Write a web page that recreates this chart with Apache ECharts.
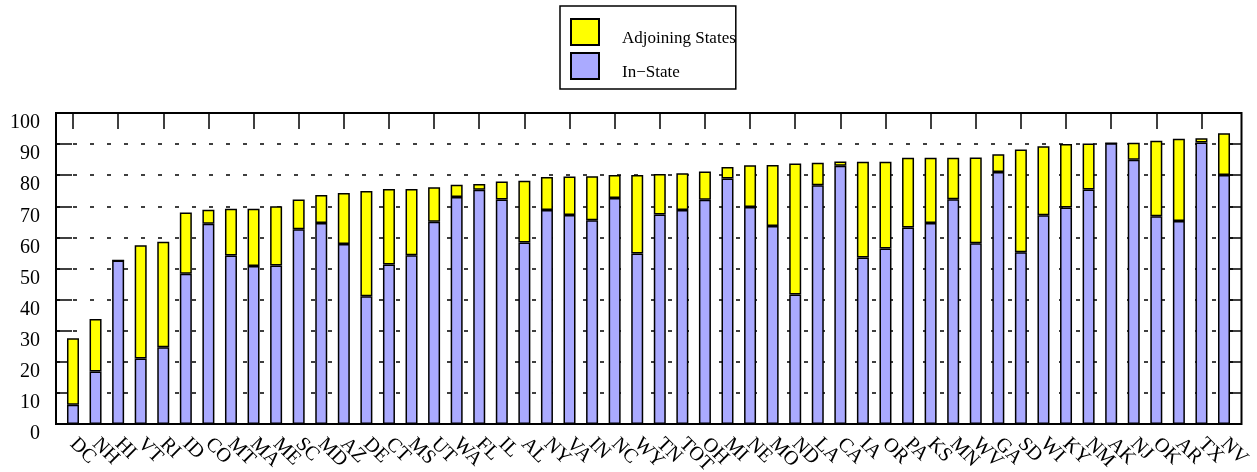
<!DOCTYPE html>
<html>
<head>
<meta charset="utf-8">
<script src="https://cdn.jsdelivr.net/npm/echarts@6/dist/echarts.min.js"></script>
<style>html,body{margin:0;padding:0;background:#fff}#c{width:1257px;height:472px}</style>
</head>
<body>
<div id="c"></div>
<script>
var states = ['DC','NH','HI','VT','RI','ID','CO','MT','MA','ME','SC','MD','AZ','DE','CT','MS','UT','WA','FL','IL','AL','NY','VA','IN','NC','WY','TN','TOT','OH','MI','NE','MO','ND','LA','CA','IA','OR','PA','KS','MN','WV','GA','SD','WI','KY','NM','AK','NJ','OK','AR','TX','NV'];
var inState = [6.2,16.9,52.6,21.1,24.7,48.3,64.4,54.2,50.8,51.0,62.6,64.6,57.9,41.1,51.3,54.3,65.0,73.0,75.3,72.2,58.4,68.8,67.2,65.5,72.7,54.8,67.4,68.8,72.1,78.9,69.8,63.7,41.6,76.8,83.0,53.5,56.4,63.2,64.6,72.3,58.1,81.0,55.2,67.1,69.6,75.4,90.3,85.0,66.8,65.3,90.5,80.1];
var adjoining = [21.4,16.9,0,36.4,33.9,19.7,4.5,15.0,18.4,19.0,9.6,9.0,16.4,33.8,24.3,21.3,11.1,3.9,1.9,5.8,19.8,10.6,12.4,14.2,7.4,25.3,13.0,11.8,9.1,3.7,13.4,19.6,42.2,7.2,1.4,30.8,27.9,22.4,21.0,13.3,27.6,5.7,33.1,22.2,20.4,14.8,0,5.4,24.3,26.4,1.4,13.4];
var yTicks = [0,10,20,30,40,50,60,70,80,90,100];

var serif = 'Liberation Serif, DejaVu Serif, serif';
var chart = echarts.init(document.getElementById('c'));
chart.setOption({
  animation: false,
  backgroundColor: '#fff',
  legend: {
    orient: 'vertical',
    left: 560, top: 6,
    padding: [12, 0, 8, 10],
    borderColor: '#000', borderWidth: 1.5,
    itemWidth: 28, itemHeight: 26, itemGap: 5,
    icon: 'rect',
    data: ['Adjoining States', 'In\u2212State'],
    formatter: '{t|{name}}',
    textStyle: { fontFamily: serif, fontSize: 17, color: '#000',
      rich: { t: { fontFamily: serif, fontSize: 17, color: '#000', padding: [13, 0, 0, 18] } } },
    selectedMode: false
  },
  grid: [
    { left: 61.7, right: 21.7, top: 113, bottom: 48, outerBoundsMode: 'none', containLabel: false },
    { left: 56, right: 15.5, top: 113, bottom: 48, outerBoundsMode: 'none', containLabel: false,
      show: true, borderColor: '#000', borderWidth: 2, backgroundColor: 'transparent' }
  ],
  xAxis: [
    { type: 'category', gridIndex: 0, data: states, position: 'bottom',
      axisLine: { show: false }, axisTick: { show: false },
      axisLabel: { rotate: -45, interval: 0, fontFamily: serif, fontSize: 20, color: '#000', margin: 17 } },
    { type: 'category', gridIndex: 0, data: states, position: 'top',
      axisLine: { show: false }, axisLabel: { show: false },
      axisTick: { show: true, inside: true, length: 16, alignWithLabel: true, lineStyle: { color: '#000', width: 1.5 } } },
    { type: 'value', gridIndex: 1, show: false, min: 0, max: 1 }
  ],
  yAxis: [
    { type: 'value', gridIndex: 0, min: 0, max: 100, show: false },
    { type: 'value', gridIndex: 1, min: 0, max: 100, interval: 10, position: 'left',
      axisLine: { show: false },
      axisTick: { show: true, inside: true, length: 16, lineStyle: { color: '#000', width: 1.5 } },
      splitLine: { show: true, lineStyle: { color: '#000', width: 1.5, type: [4, 13] } },
      axisLabel: { fontFamily: serif, fontSize: 20, color: '#000', margin: 16, verticalAlign: 'top',
        formatter: function (v) { return yTicks.indexOf(v) >= 0 ? String(v) : ''; } } },
    { type: 'value', gridIndex: 1, min: 0, max: 100, interval: 10, position: 'right',
      axisLine: { show: false }, axisLabel: { show: false }, splitLine: { show: false },
      axisTick: { show: true, inside: true, length: 16, lineStyle: { color: '#000', width: 1.5 } } }
  ],
  series: [
    { name: 'In\u2212State', type: 'bar', stack: 's', xAxisIndex: 0, yAxisIndex: 0, data: inState, barWidth: 12,
      itemStyle: { color: '#aaaaff', borderColor: '#000', borderWidth: 1.5 } },
    { name: 'Adjoining States', type: 'bar', stack: 's', xAxisIndex: 0, yAxisIndex: 0, data: adjoining, barWidth: 12,
      itemStyle: { color: '#ffff00', borderColor: '#000', borderWidth: 1.5 } }
  ]
});
</script>
</body>
</html>
